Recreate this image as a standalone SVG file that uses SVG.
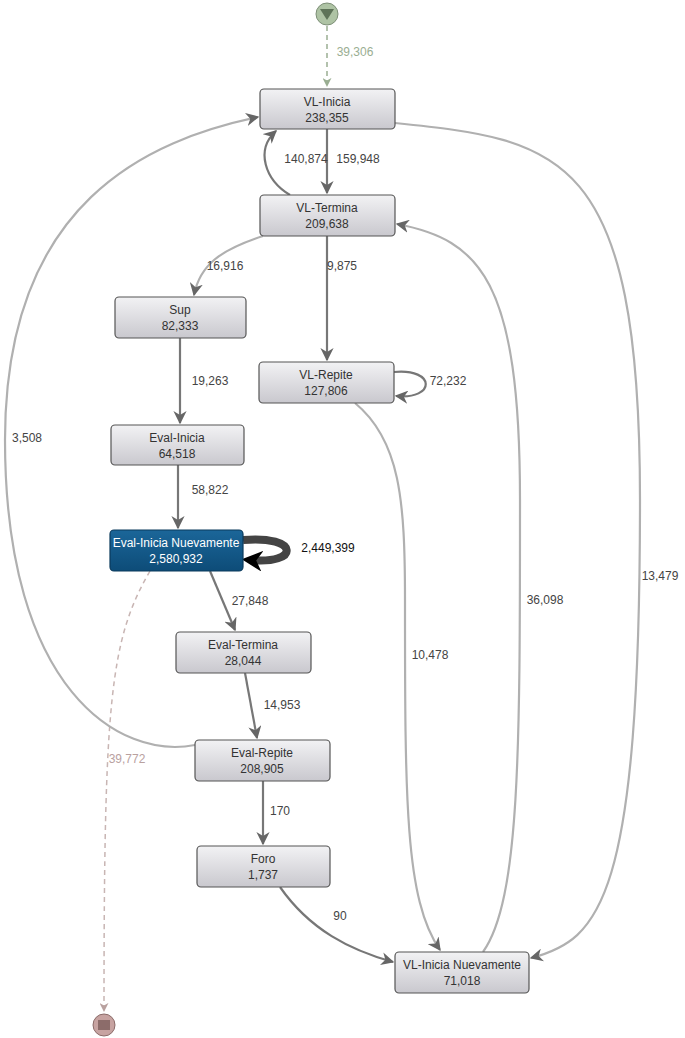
<svg xmlns="http://www.w3.org/2000/svg" width="685" height="1038" viewBox="0 0 685 1038">
<style>
.n rect{fill:url(#g);stroke:#555;stroke-width:1.2}
.n text,.l{font-family:"Liberation Sans",Arial,sans-serif;font-size:12px;fill:#333;text-anchor:middle}
.e{fill:none;stroke:#777;stroke-width:2.2}
.lt{stroke:#b0b0b0}
.l{fill:#444}
</style>
<defs>
<linearGradient id="g" x1="0" y1="0" x2="0" y2="1"><stop offset="0" stop-color="#f2f2f4"/><stop offset="1" stop-color="#c9c8ce"/></linearGradient>
<linearGradient id="gb" x1="0" y1="0" x2="0" y2="1"><stop offset="0" stop-color="#1b6699"/><stop offset="1" stop-color="#0d4c78"/></linearGradient>
<marker id="a" viewBox="0 0 10 10" refX="9" refY="5" markerWidth="6" markerHeight="6" orient="auto"><path d="M0,0L10,5L0,10L3,5z" fill="#666"/></marker>
<marker id="ag" viewBox="0 0 10 10" refX="9" refY="5" markerWidth="6" markerHeight="6" orient="auto"><path d="M0,0L10,5L0,10L3,5z" fill="#9aae92"/></marker>
<marker id="ar" viewBox="0 0 10 10" refX="9" refY="5" markerWidth="6" markerHeight="6" orient="auto"><path d="M0,0L10,5L0,10L3,5z" fill="#b9a19f"/></marker>
<marker id="ak" viewBox="0 0 10 10" refX="6" refY="5" markerWidth="2.6" markerHeight="2.6" orient="auto"><path d="M0,0L10,5L0,10L3,5z" fill="#000"/></marker>
</defs>
<g id="connectors">
<path d="M327,26V86" fill="none" stroke="#9aae92" stroke-width="1.5" stroke-dasharray="5,4" marker-end="url(#ag)"/>
<text class="l" x="355" y="56" style="fill:#9aae92">39,306</text>
<path class="e" d="M327,129V193" marker-end="url(#a)"/>
<text class="l" x="358" y="163">159,948</text>
<path class="e" d="M290,195C265,180 255,150 276,131" marker-end="url(#a)"/>
<text class="l" x="306" y="163">140,874</text>
<path class="e lt" d="M395,123C560,140 640,150 640,500C640,900 600,940 531,958" marker-end="url(#a)"/>
<text class="l" x="660" y="580">13,479</text>
<path class="e lt" d="M263,236C220,250 200,265 194,295" marker-end="url(#a)"/>
<text class="l" x="225" y="270">16,916</text>
<path class="e" d="M327,236V360" marker-end="url(#a)"/>
<text class="l" x="342" y="270">9,875</text>
<path class="e" d="M394,372C436,368 436,400 396,396" marker-end="url(#a)"/>
<text class="l" x="448" y="385">72,232</text>
<path class="e" d="M180,338V423" marker-end="url(#a)"/>
<text class="l" x="210" y="385">19,263</text>
<path class="e" d="M178,465V528" marker-end="url(#a)"/>
<text class="l" x="210" y="494">58,822</text>
<path d="M243,540C300,535 300,565 250,560" fill="none" stroke="#444" stroke-width="8" marker-end="url(#ak)"/>
<text class="l" x="328" y="552" style="fill:#111">2,449,399</text>
<path class="e" d="M210,571L235,630" marker-end="url(#a)"/>
<text class="l" x="250" y="605">27,848</text>
<path d="M150,571C110,640 104,700 104,1011" fill="none" stroke="#c8b5b3" stroke-width="1.5" stroke-dasharray="5,4" marker-end="url(#ar)"/>
<text class="l" x="127" y="763" style="fill:#b9a19f">39,772</text>
<path class="e" d="M245,673L257,738" marker-end="url(#a)"/>
<text class="l" x="282" y="709">14,953</text>
<path class="e lt" d="M195,745C120,760 5,690 5,440C5,200 150,140 258,117" marker-end="url(#a)"/>
<text class="l" x="27" y="442">3,508</text>
<path class="e" d="M263,781V844" marker-end="url(#a)"/>
<text class="l" x="280" y="815">170</text>
<path class="e" d="M280,887C310,930 350,950 393,962" marker-end="url(#a)"/>
<text class="l" x="340" y="920">90</text>
<path class="e lt" d="M355,403C400,440 405,500 405,600C405,800 405,900 440,950" marker-end="url(#a)"/>
<text class="l" x="430" y="659">10,478</text>
<path class="e lt" d="M483,952C520,900 520,750 520,500C520,280 480,240 397,224" marker-end="url(#a)"/>
<text class="l" x="545" y="604">36,098</text>
</g>
<g id="start"><circle cx="327" cy="14" r="11" fill="#aec3a4" stroke="#7d8f77"/><path d="M320,9H334L327,20z" fill="#5e7358"/></g>
<g id="end"><circle cx="104" cy="1025" r="11" fill="#c7a3a1" stroke="#8c6c6a"/><rect x="98" y="1020" width="12" height="10" fill="#8c6c6a"/></g>
<g id="vl-inicia" class="n"><rect x="260" y="89" width="135" height="40" rx="4"/><text x="327" y="106">VL-Inicia</text><text x="327" y="122">238,355</text></g>
<g id="vl-termina" class="n"><rect x="260" y="195" width="135" height="41" rx="4"/><text x="327" y="212">VL-Termina</text><text x="327" y="228">209,638</text></g>
<g id="sup" class="n"><rect x="115" y="297" width="131" height="41" rx="4"/><text x="180" y="314">Sup</text><text x="180" y="330">82,333</text></g>
<g id="vl-repite" class="n"><rect x="259" y="362" width="135" height="41" rx="4"/><text x="326" y="379">VL-Repite</text><text x="326" y="395">127,806</text></g>
<g id="eval-inicia" class="n"><rect x="111" y="425" width="133" height="40" rx="4"/><text x="177" y="442">Eval-Inicia</text><text x="177" y="458">64,518</text></g>
<g id="eval-inicia-nuevamente" class="n"><rect x="110" y="530" width="133" height="41" rx="4" style="fill:url(#gb);stroke:#0a3a5c"/><text x="176" y="547" style="fill:#fff">Eval-Inicia Nuevamente</text><text x="176" y="563" style="fill:#fff">2,580,932</text></g>
<g id="eval-termina" class="n"><rect x="176" y="632" width="135" height="41" rx="4"/><text x="243" y="649">Eval-Termina</text><text x="243" y="665">28,044</text></g>
<g id="eval-repite" class="n"><rect x="195" y="740" width="135" height="41" rx="4"/><text x="262" y="757">Eval-Repite</text><text x="262" y="773">208,905</text></g>
<g id="foro" class="n"><rect x="197" y="846" width="133" height="41" rx="4"/><text x="263" y="863">Foro</text><text x="263" y="879">1,737</text></g>
<g id="vl-inicia-nuevamente" class="n"><rect x="395" y="952" width="134" height="41" rx="4"/><text x="462" y="969">VL-Inicia Nuevamente</text><text x="462" y="985">71,018</text></g>
</svg>
